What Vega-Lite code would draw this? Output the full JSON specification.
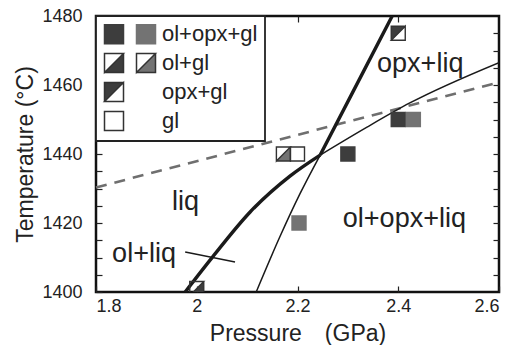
{
  "$schema": "https://vega.github.io/schema/vega-lite/v6.json",
  "width": 403,
  "height": 276,
  "autosize": {"type": "none"},
  "padding": {"left": 96, "top": 16, "right": 16, "bottom": 53},
  "background": "white",
  "config": {
    "view": {"stroke": "#111", "strokeWidth": 2.5},
    "font": "Liberation Sans",
    "axis": {
      "domain": false, "grid": false, "tickColor": "#222", "tickSize": -6, "tickWidth": 1.2,
      "labelFont": "Liberation Sans", "labelFontSize": 18, "labelColor": "#222",
      "titleFont": "Liberation Sans", "titleFontSize": 23, "titleFontWeight": "normal", "titleColor": "#222"
    },
    "legend": {
      "orient": "top-left", "offset": 0, "columns": 2,
      "symbolSize": 361, "symbolStrokeWidth": 1.5,
      "labelFont": "Liberation Sans", "labelFontSize": 22, "labelColor": "#222",
      "strokeColor": "#222", "strokeWidth": 1.8, "fillColor": "white",
      "padding": 7, "rowPadding": 3, "columnPadding": 3, "labelOffset": 5
    }
  },
  "datasets": {
    "curves": [
      {"P": 1.977, "T": 1400, "curve": "thick lower"},
      {"P": 2.03, "T": 1409.9, "curve": "thick lower"},
      {"P": 2.106, "T": 1423.2, "curve": "thick lower"},
      {"P": 2.185, "T": 1433.6, "curve": "thick lower"},
      {"P": 2.245, "T": 1439.7, "curve": "thick lower"},
      {"P": 2.245, "T": 1439.7, "curve": "thick upper"},
      {"P": 2.31, "T": 1458, "curve": "thick upper"},
      {"P": 2.388, "T": 1480, "curve": "thick upper"},
      {"P": 2.118, "T": 1400, "curve": "thin lower"},
      {"P": 2.165, "T": 1416, "curve": "thin lower"},
      {"P": 2.205, "T": 1428.5, "curve": "thin lower"},
      {"P": 2.245, "T": 1439.7, "curve": "thin lower"},
      {"P": 2.245, "T": 1439.7, "curve": "thin upper"},
      {"P": 2.338, "T": 1447.8, "curve": "thin upper"},
      {"P": 2.423, "T": 1454.8, "curve": "thin upper"},
      {"P": 2.6, "T": 1466.5, "curve": "thin upper"},
      {"P": 1.8, "T": 1430.3, "curve": "dashed"},
      {"P": 2.6, "T": 1460.8, "curve": "dashed"},
      {"P": 1.977, "T": 1411.6, "curve": "pointer"},
      {"P": 2.076, "T": 1408.7, "curve": "pointer"}
    ],
    "runs": [
      {"P": 2.0, "T": 1401, "key": "ol+gl 1"},
      {"P": 2.172, "T": 1440, "key": "ol+gl 2"},
      {"P": 2.2, "T": 1440, "key": "gl 1"},
      {"P": 2.203, "T": 1420, "key": "ol+opx+gl 2"},
      {"P": 2.3, "T": 1440, "key": "ol+opx+gl 1"},
      {"P": 2.4, "T": 1450, "key": "ol+opx+gl 1"},
      {"P": 2.43, "T": 1450, "key": "ol+opx+gl 2"},
      {"P": 2.4, "T": 1475, "key": "opx+gl 1"}
    ],
    "labels": [
      {"P": 2.358, "T": 1463.8, "label": "opx+liq"},
      {"P": 2.29, "T": 1418.8, "label": "ol+opx+liq"},
      {"P": 1.951, "T": 1423.8, "label": "liq"},
      {"P": 1.832, "T": 1408.7, "label": "ol+liq"}
    ]
  },
  "layer": [
    {
      "data": {"name": "curves"},
      "transform": [{"filter": "datum.curve == 'dashed'"}],
      "mark": {"type": "line", "color": "#6f6f6f", "strokeWidth": 2.6, "strokeDash": [11, 8]},
      "encoding": {
        "x": {"field": "P", "type": "quantitative", "scale": {"domain": [1.8, 2.6], "nice": false, "zero": false},
          "axis": {"orient": "bottom", "values": [1.8, 2, 2.2, 2.4, 2.6], "format": "~g", "labelPadding": 11,
            "title": "Pressure\u2003(GPa)", "titleY": 48, "titleBaseline": "alphabetic"}},
        "y": {"field": "T", "type": "quantitative", "scale": {"domain": [1400, 1480], "nice": false, "zero": false},
          "axis": {"orient": "left", "values": [1400, 1405, 1410, 1415, 1420, 1425, 1430, 1435, 1440, 1445, 1450, 1455, 1460, 1465, 1470, 1475, 1480],
            "format": "d", "labelExpr": "datum.value % 20 == 0 ? datum.label : ''", "labelPadding": 20,
            "title": "Temperature (°C)", "titleX": -64, "titleBaseline": "alphabetic"}}
      }
    },
    {
      "data": {"name": "curves"},
      "transform": [{"filter": "indexof(datum.curve, 'thick') == 0"}],
      "mark": {"type": "line", "color": "#1a1a1a", "strokeWidth": 3.4, "interpolate": "monotone", "clip": true},
      "encoding": {
        "x": {"field": "P", "type": "quantitative", "axis": null},
        "y": {"field": "T", "type": "quantitative", "axis": null},
        "detail": {"field": "curve"}
      }
    },
    {
      "data": {"name": "curves"},
      "transform": [{"filter": "indexof(datum.curve, 'thin') == 0"}],
      "mark": {"type": "line", "color": "#1a1a1a", "strokeWidth": 1.5, "interpolate": "monotone", "clip": true},
      "encoding": {
        "x": {"field": "P", "type": "quantitative", "axis": null},
        "y": {"field": "T", "type": "quantitative", "axis": null},
        "detail": {"field": "curve"}
      }
    },
    {
      "data": {"name": "curves"},
      "transform": [{"filter": "datum.curve == 'pointer'"}],
      "mark": {"type": "line", "color": "#1a1a1a", "strokeWidth": 1.5},
      "encoding": {
        "x": {"field": "P", "type": "quantitative",
          "axis": {"orient": "top", "values": [2, 2.2, 2.4], "labels": false, "title": null}},
        "y": {"field": "T", "type": "quantitative",
          "axis": {"orient": "right", "values": [1405, 1410, 1415, 1420, 1425, 1430, 1435, 1440, 1445, 1450, 1455, 1460, 1465, 1470, 1475], "labels": false, "title": null}}
      }
    },
    {
      "data": {"name": "runs"},
      "mark": {"type": "point", "filled": true, "size": 196, "strokeWidth": 1.4, "opacity": 1, "clip": true},
      "encoding": {
        "x": {"field": "P", "type": "quantitative", "axis": null},
        "y": {"field": "T", "type": "quantitative", "axis": null},
        "fill": {"field": "key", "type": "nominal",
          "scale": {"domain": ["ol+opx+gl 1", "ol+gl 1", "opx+gl 1", "gl 1", "ol+opx+gl 2", "ol+gl 2", "opx+gl 2", "gl 2"],
            "range": ["#3d3d3d", "#3d3d3d", "#3d3d3d", "white", "#737373", "#737373", "transparent", "transparent"]},
          "legend": {"title": null, "labelExpr": "indexof(datum.value, ' 2') > 0 ? replace(datum.value, ' 2', '') : ''"}},
        "stroke": {"field": "key", "type": "nominal",
          "scale": {"domain": ["ol+opx+gl 1", "ol+gl 1", "opx+gl 1", "gl 1", "ol+opx+gl 2", "ol+gl 2", "opx+gl 2", "gl 2"],
            "range": ["#3d3d3d", "#333333", "#333333", "#333333", "#737373", "#333333", "transparent", "transparent"]},
          "legend": {"title": null, "labelExpr": "indexof(datum.value, ' 2') > 0 ? replace(datum.value, ' 2', '') : ''"}},
        "shape": {"field": "key", "type": "nominal",
          "scale": {"domain": ["ol+opx+gl 1", "ol+gl 1", "opx+gl 1", "gl 1", "ol+opx+gl 2", "ol+gl 2", "opx+gl 2", "gl 2"],
            "range": ["square", "M-1,-1L1,-1L1,1L-1,1Z M-1,-1L-1,1L1,-1Z", "M-1,-1L1,-1L1,1L-1,1Z M1,-1L-1,1L1,1Z", "square", "square", "M-1,-1L1,-1L1,1L-1,1Z M-1,-1L-1,1L1,-1Z", "square", "square"]},
          "legend": {"title": null, "labelExpr": "indexof(datum.value, ' 2') > 0 ? replace(datum.value, ' 2', '') : ''"}}
      }
    },
    {
      "data": {"name": "labels"},
      "mark": {"type": "text", "align": "left", "baseline": "alphabetic", "fontSize": 27, "font": "Liberation Sans", "color": "#222"},
      "encoding": {
        "x": {"field": "P", "type": "quantitative", "axis": null},
        "y": {"field": "T", "type": "quantitative", "axis": null},
        "text": {"field": "label"}
      }
    }
  ],
  "resolve": {"axis": {"x": "independent", "y": "independent"}}
}
